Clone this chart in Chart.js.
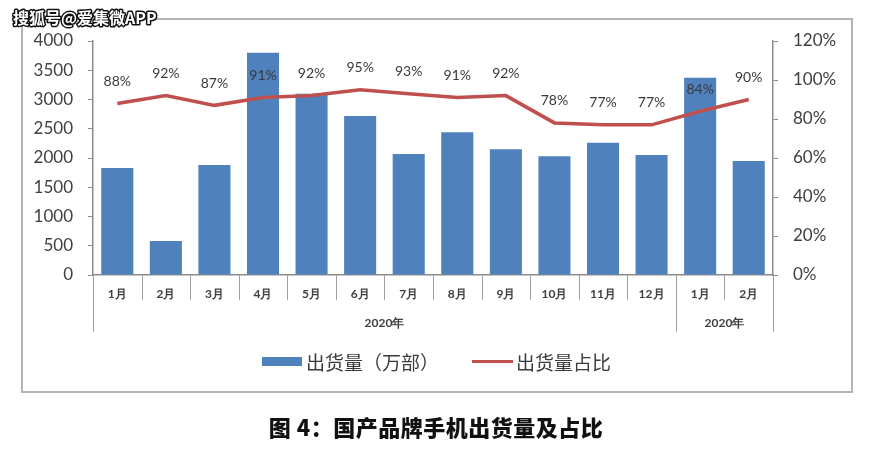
<!DOCTYPE html>
<html lang="zh">
<head>
  <meta charset="UTF-8" />
  <title>国产品牌手机出货量及占比</title>
  <script src="https://cdn.jsdelivr.net/npm/chart.js"></script>
  <style>
    body {
      margin: 0;
      width: 872px;
      height: 455px;
      background: #fff;
      position: relative;
      overflow: hidden;
      font-family: "Noto Sans CJK SC", sans-serif;
    }
    .frame {
      position: absolute;
      left: 21px;
      top: 18px;
      width: 828px;
      height: 371px;
      border: 2px solid #b4b4b4;
    }
    #chart {
      position: absolute;
      left: 0;
      top: 0;
    }
    .legend-box {
      position: absolute;
    }
    .legend-text {
      position: absolute;
      font-size: 19px;
      line-height: 19px;
      color: #3a3a3a;
      white-space: nowrap;
    }
    .title {
      position: absolute;
      left: 0;
      width: 872px;
      top: 411px;
      text-align: center;
      font-size: 22px;
      line-height: 30px;
      font-weight: 900;
      color: #111;
      letter-spacing: 0.5px;
    }
  </style>
</head>
<body>
  <div class="frame"></div>
  <canvas id="chart" width="872" height="455"></canvas>

  <div class="legend-box" style="left:262px;top:357px;width:40px;height:9px;background:#4f81bd;"></div>
  <div class="legend-text" style="left:306px;top:352px;">出货量（万部）</div>
  <div class="legend-box" style="left:472px;top:360px;width:41px;height:3px;background:#c0504d;"></div>
  <div class="legend-text" style="left:516px;top:352px;">出货量占比</div>

  <div class="title">图 4：国产品牌手机出货量及占比</div>

  <script>
    const months = ["1月", "2月", "3月", "4月", "5月", "6月", "7月", "8月", "9月", "10月", "11月", "12月", "1月", "2月"];
    const shipments = [1830, 580, 1880, 3800, 3100, 2720, 2070, 2440, 2150, 2030, 2260, 2050, 3370, 1950];
    const share = [88, 92, 87, 91, 92, 95, 93, 91, 92, 78, 77, 77, 84, 90];
    const yearGroups = [
      { label: "2020年", from: 0, to: 12 },
      { label: "2020年", from: 12, to: 14 }
    ];

    const axisColor = "#8c8c8c";
    const textColor = "#404040";

    // separators, year labels, point labels, watermark
    const extras = {
      id: "extras",
      afterDraw(chart) {
        const ctx = chart.ctx;
        const area = chart.chartArea;
        const n = months.length;
        const step = (area.right - area.left) / n;
        const groupEdges = [0, 12, 14];

        ctx.save();
        ctx.strokeStyle = "#a0a0a0";
        ctx.lineWidth = 1;
        for (let i = 0; i <= n; i++) {
          const x = Math.round(area.left + i * step) + 0.5;
          ctx.beginPath();
          ctx.moveTo(x, area.bottom);
          ctx.lineTo(x, groupEdges.includes(i) ? area.bottom + 57 : area.bottom + 25);
          ctx.stroke();
        }

        ctx.fillStyle = textColor;
        ctx.font = "bold 12px Lato";
        ctx.textAlign = "center";
        ctx.textBaseline = "middle";
        yearGroups.forEach(g => {
          const cx = area.left + (g.from + g.to) / 2 * step;
          ctx.fillText(g.label, cx, area.bottom + 48);
        });

        const meta = chart.getDatasetMeta(1);
        ctx.font = "14px Lato";
        ctx.fillStyle = "#3a3a3a";
        meta.data.forEach((pt, i) => {
          ctx.fillText(share[i] + "%", pt.x, pt.y - 22);
        });

        ctx.font = "bold 16px 'Noto Sans CJK SC'";
        ctx.textAlign = "left";
        ctx.lineWidth = 3;
        ctx.strokeStyle = "#111";
        ctx.lineJoin = "round";
        ctx.strokeText("搜狐号@爱集微APP", 13, 18);
        ctx.fillStyle = "#fff";
        ctx.fillText("搜狐号@爱集微APP", 13, 18);
        ctx.restore();
      }
    };

    new Chart(document.getElementById("chart"), {
      type: "bar",
      data: {
        labels: months,
        datasets: [
          {
            label: "出货量（万部）",
            data: shipments,
            backgroundColor: "#4f81bd",
            barPercentage: 0.66,
            categoryPercentage: 1,
            yAxisID: "y",
            order: 2
          },
          {
            type: "line",
            label: "出货量占比",
            data: share,
            borderColor: "#c0504d",
            borderWidth: 3.5,
            pointRadius: 0,
            tension: 0,
            yAxisID: "y1",
            order: 1
          }
        ]
      },
      options: {
        responsive: false,
        animation: false,
        layout: { padding: { top: 41, left: 0, right: 0, bottom: 0 } },
        plugins: {
          legend: { display: false },
          tooltip: { enabled: false }
        },
        scales: {
          x: {
            grid: { display: true, drawOnChartArea: false, drawTicks: false },
            border: { color: axisColor, width: 1.5 },
            ticks: { color: textColor, font: { family: "Lato", size: 12, weight: "bold" }, padding: 12, maxRotation: 0 },
            afterFit(scale) { scale.height = 180; }
          },
          y: {
            position: "left",
            min: 0,
            max: 4000,
            ticks: {
              stepSize: 500,
              color: textColor,
              font: { family: "Lato", size: 17 },
              padding: 15,
              callback: v => String(v)
            },
            grid: { drawOnChartArea: false, drawTicks: true, tickLength: 5, color: axisColor },
            border: { color: axisColor, width: 1.5 },
            afterFit(scale) { scale.width = 93; }
          },
          y1: {
            position: "right",
            min: 0,
            max: 120,
            ticks: {
              stepSize: 20,
              color: textColor,
              font: { family: "Lato", size: 17 },
              padding: 15,
              callback: v => v + "%"
            },
            grid: { drawOnChartArea: false, drawTicks: true, tickLength: 5, color: axisColor },
            border: { color: axisColor, width: 1.5 },
            afterFit(scale) { scale.width = 99; }
          }
        }
      },
      plugins: [extras]
    });
  </script>
</body>
</html>
